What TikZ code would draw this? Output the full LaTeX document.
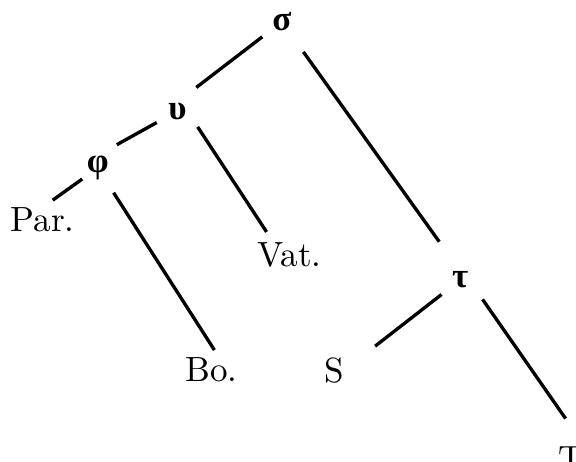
\documentclass[tikz,border=0pt]{standalone}
\usepackage{fontspec}
\newfontfamily\greekfont{Liberation Serif}

\begin{document}
\begin{tikzpicture}[font=\fontsize{10.5pt}{12pt}\selectfont,
    hyparch/.style={inner sep=0pt, font=\fontsize{10.5pt}{12pt}\selectfont\greekfont\bfseries},
    witness/.style={inner sep=0pt},
    branch/.style={line width=1pt}]
    \useasboundingbox (0,0) rectangle (6.07,4.86);

    % Hyparchetypes
    \node[hyparch] (sigma) at (2.97,4.63) {σ};
    \node[hyparch] (upsilon) at (1.87,3.69) {υ};
    \node[hyparch] (phi) at (1.03,3.09) {φ};
    \node[hyparch] (tau) at (4.85,1.91) {τ};

    % Witnesses
    \node[witness] (par) at (0.45,2.54) {Par.};
    \node[witness] (vat) at (3.05,2.17) {Vat.};
    \node[witness] (bo) at (2.23,0.96) {Bo.};
    \node[witness] (s) at (3.52,0.96) {S};
    \node[witness] (t) at (6.02,0.03) {T};

    % Branches
    \foreach \from/\to/\gapa/\gapb in {sigma.center/upsilon.north/0.26/0.25,
            sigma.center/tau.north/0.39/0.38,
            upsilon.center/phi.north/0.25/0.23,
            phi.center/par.north/0.20/0.13,
            upsilon.east/vat.141/0.20/0.13,
            phi.center/bo.60/0.31/0.09,
            tau.center/s.east/0.25/0.41,
            tau.east/t.north east/0.25/0.35} {
        \draw[branch, shorten <=\gapa cm, shorten >=\gapb cm] (\from) -- (\to);
    }
\end{tikzpicture}
\end{document}
